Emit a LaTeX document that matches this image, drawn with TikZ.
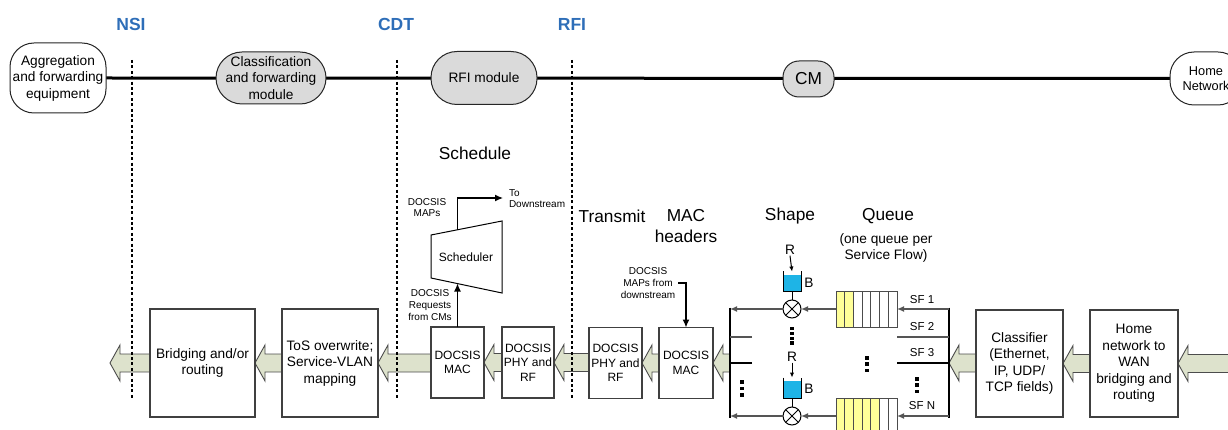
\documentclass[tikz,border=0pt]{standalone}
\usepackage{fontspec}
\setmainfont{Liberation Sans}
\usetikzlibrary{arrows.meta,calc,backgrounds}
\definecolor{lblue}{RGB}{46,110,184}
\definecolor{arrfill}{RGB}{221,226,204}
\definecolor{gfill}{RGB}{218,218,218}
\definecolor{bucketc}{RGB}{30,180,230}
\definecolor{qyellow}{RGB}{255,255,153}
\definecolor{lgray}{RGB}{85,85,85}
\newcommand\blockarrow[2]{%
  \draw[barrow] let \p1=(#1), \p2=(#2) in
    (\x1,\y2+9pt) -- (\x2+10pt,\y2+9pt) -- (\x2+10pt,\y2+18pt) -- (\x2,\y2)
    -- (\x2+10pt,\y2-18pt) -- (\x2+10pt,\y2-9pt) -- (\x1,\y2-9pt);}
\newcommand\sqdots[5]{% x, ystart, n, spacing, size
  \foreach \k in {1,...,#3} \fill (#1-#5/2, #2+\k*#4-#4) rectangle ++(#5,#5);}
\begin{document}
\begin{tikzpicture}[x=1pt,y=-1pt,
  every node/.style={inner sep=0pt, outer sep=0pt},
  fmain/.style={font=\fontsize{13.7}{16.5}\selectfont},
  fsmall/.style={font=\fontsize{10}{11.6}\selectfont},
  fbig/.style={font=\fontsize{17.3}{21}\selectfont},
  fdoc/.style={font=\fontsize{12}{14.5}\selectfont},
  fsf/.style={font=\fontsize{11.5}{13}\selectfont},
  iface/.style={font=\fontsize{17.5}{20}\selectfont\bfseries, text=lblue},
  box/.style={draw=black!75, fill=white, line width=1.1pt, align=center},
  pill/.style={draw=black!85, line width=1pt, align=center, fmain},
  barrow/.style={draw=black!70, fill=arrfill, line width=0.9pt, line join=miter},
  dotline/.style={line width=2pt, dash pattern=on 3pt off 2.4pt},
  sline/.style={draw=lgray, line width=1.4pt, -{Latex[length=7pt,width=6pt]}},
  karrow/.style={draw=black, line width=1.3pt, -{Latex[length=8pt,width=7pt]}},
  mult/.style={circle, draw=black, fill=white, line width=1pt, minimum size=18pt},
  ]
\useasboundingbox (0,0) rectangle (1228,430);

% ---------- top row ----------
\node[pill, fill=white, rounded corners=24pt, minimum width=96pt, minimum height=70pt] (agg) at (58,78) {Aggregation\\and forwarding\\equipment};
\node[pill, fill=gfill, rounded corners=26pt, minimum width=110pt, minimum height=52pt] (cls) at (271,78) {Classification\\and forwarding\\module};
\node[pill, fill=gfill, rounded corners=26pt, minimum width=106pt, minimum height=53pt] (rfi) at (484,78) {RFI module};
\node[pill, fill=gfill, rounded corners=16pt, minimum width=51pt, minimum height=36pt, font=\fontsize{17.3}{20}\selectfont] (cm) at (808.5,79) {CM};
\node[pill, fill=white, rounded corners=24pt, minimum width=72pt, minimum height=53pt, font=\fontsize{12.8}{15.5}\selectfont] (homenet) at (1206,78.5) {Home\\Network};

\node[iface] (nsi) at (131,24) {NSI};
\node[iface] (cdt) at (396,24) {CDT};
\node[iface] (rfil) at (572,24) {RFI};
\draw[dotline] (132,60) -- (132,400);
\draw[dotline] (397,60) -- (397,400);
\draw[dotline] (572,60) -- (572,400);

% ---------- bottom boxes ----------
\node[box, fmain, minimum width=105pt, minimum height=108pt] (bridge) at (202.5,363) {Bridging and/or\\routing};
\node[box, fmain, minimum width=96pt, minimum height=108pt] (tos) at (330,363) {ToS overwrite;\\Service-VLAN\\mapping};
\node[box, fdoc, minimum width=53pt, minimum height=71pt] (dmac) at (457.5,362.5) {DOCSIS\\MAC};
\node[box, fdoc, minimum width=52pt, minimum height=71pt] (dphy) at (528,362.5) {DOCSIS\\PHY and\\RF};
\node[box, fdoc, minimum width=53pt, minimum height=71pt] (cphy) at (615.5,363) {DOCSIS\\PHY and\\RF};
\node[box, fdoc, minimum width=54pt, minimum height=71pt] (cmac) at (686,363) {DOCSIS\\MAC};
\node[box, fmain, minimum width=87pt, minimum height=107pt] (clsf) at (1019.5,363.5) {Classifier\\(Ethernet,\\IP, UDP/\\TCP fields)};
\node[box, fmain, minimum width=88pt, minimum height=107pt] (hwan) at (1134,363.5) {Home\\network to\\WAN\\bridging and\\routing};

\coordinate (leftend) at (110,363);
\coordinate (rightend) at (1232,363);
\coordinate (busL) at (730,363);
\coordinate (busR) at (949,363);

\begin{scope}[on background layer]
  \draw[line width=3pt] (agg.east) -- (homenet.west);
  \blockarrow{bridge.west}{leftend}
  \blockarrow{tos.west}{bridge.east}
  \blockarrow{dmac.west}{tos.east}
  \blockarrow{dphy.west}{dmac.east}
  \blockarrow{cphy.west}{dphy.east}
  \blockarrow{cmac.west}{cphy.east}
  \blockarrow{busL}{cmac.east}
  \blockarrow{clsf.west}{busR}
  \blockarrow{hwan.west}{clsf.east}
  \blockarrow{rightend}{hwan.east}
\end{scope}

% ---------- headings ----------
\node[fbig] (tsched) at (475,153) {Schedule};
\node[fbig] (ttrans) at (612,216) {Transmit};
\node[fbig, align=center] (tmac) at (686,226.5) {MAC\\headers};
\node[fbig] (tshape) at (790,216) {Shape};
\node[fbig] (tqueue) at (888,216) {Queue};
\node[fmain, align=center, font=\fontsize{13.7}{16}\selectfont] (tqsub) at (886,248) {(one queue per\\Service Flow)};

% ---------- scheduler ----------
\draw[line width=1pt] (431,235) -- (502,221) -- (502,293) -- (431,278) -- cycle;
\node[fdoc] (sched) at (466,257) {Scheduler};
\coordinate (schB) at (457.5,283.5);
\coordinate (schT) at (457.5,230);
\coordinate (todown) at (503,198);
\draw[karrow] (dmac.north) -- (schB);
\draw[karrow] (schT) |- (todown);
\node[fsmall, align=center] (maps) at (427,207.5) {DOCSIS\\MAPs};
\node[fsmall, align=left, anchor=west] (tods) at (509,198.5) {To\\Downstream};
\node[fsmall, align=center] (reqs) at (430,305) {DOCSIS\\Requests\\from CMs};
\node[fsmall, align=center] (mapsfrom) at (648,283) {DOCSIS\\MAPs from\\downstream};
\draw[karrow] (mapsfrom.east) ++(3,0) -| (cmac.north);

% ---------- buses ----------
\draw[line width=2.6pt] (730,307.5) -- (730,417.5);
\draw[line width=2.6pt] (949,307.5) -- (949,417.5);

% ---------- queues ----------
\foreach \i/\c in {0/qyellow,1/qyellow,2/white,3/white,4/white,5/white,6/white}
  \draw[fill=\c, draw=black!70, line width=0.8pt] (836+\i*8.714,291) rectangle ++(8.714,36);
\foreach \i/\c in {0/qyellow,1/qyellow,2/qyellow,3/qyellow,4/qyellow,5/white,6/white}
  \draw[fill=\c, draw=black!70, line width=0.8pt] (836+\i*8.714,398) rectangle ++(8.714,36);
\node[minimum width=61pt, minimum height=36pt] (q1) at (866.5,309) {};
\node[minimum width=61pt, minimum height=36pt] (qn) at (866.5,416) {};

% ---------- shapers ----------
\node[mult] (m1) at (792,309) {};
\node[mult] (mn) at (792,416) {};
\foreach \m in {m1,mn} {
  \draw[line width=0.9pt] (\m.north east) -- (\m.south west);
  \draw[line width=0.9pt] (\m.north west) -- (\m.south east);
}
\fill[bucketc] (783,275) rectangle (801,291);
\draw[line width=1pt] (783,271.5) -- (783,291) -- (801,291) -- (801,271.5);
\node[minimum width=18pt, minimum height=19.5pt] (b1) at (792,281.25) {};
\fill[bucketc] (783,381) rectangle (801,398);
\draw[line width=1pt] (783,377.5) -- (783,398) -- (801,398) -- (801,377.5);
\node[minimum width=18pt, minimum height=20.5pt] (bn) at (792,387.75) {};
\draw[line width=1pt] (b1.south) -- (m1.north);
\draw[line width=1pt] (bn.south) -- (mn.north);

\node[fmain] (r1) at (790,250) {R};
\node[fmain] (rn) at (792,357) {R};
\node[fmain] (bl1) at (809,283) {B};
\node[fmain] (bln) at (809,389) {B};
\draw[line width=1pt, -{Latex[length=5pt,width=4.5pt]}] (r1.south) ++(0,1) -- (b1.north);
\draw[line width=1pt, -{Latex[length=5pt,width=4.5pt]}] (rn.south) ++(0,1) -- (bn.north);

\draw[sline] (q1.west) -- (m1.east);
\draw[sline] (qn.west) -- (mn.east);
\draw[sline] (m1.west) -- (m1 -| busL);
\draw[sline] (mn.west) -- (mn -| busL);
\draw[sline] (q1.east -| busR) -- (q1.east);
\draw[sline] (qn.east -| busR) -- (qn.east);

\coordinate (sf2) at (897,337);
\coordinate (sf3) at (897,363);
\draw[draw=lgray, line width=1.3pt] (sf2) -- (sf2 -| busR);
\draw[draw=black, line width=1.1pt] (sf3) -- (sf3 -| busR);
\coordinate (l2) at (752,337);
\coordinate (l3) at (752,363);
\draw[draw=lgray, line width=1.3pt] (l2) -- (l2 -| busL);
\draw[draw=black, line width=1.1pt] (l3) -- (l3 -| busL);

\node[fsf] (sfa) at (922,300) {SF 1};
\node[fsf] (sfb) at (922,327) {SF 2};
\node[fsf] (sfc) at (922,353) {SF 3};
\node[fsf] (sfn) at (922,406) {SF N};

\sqdots{792}{327}{4}{4.8}{3.2}
\sqdots{742}{380}{3}{6.5}{3.5}
\sqdots{867}{356}{3}{6.3}{3.5}
\sqdots{917}{377}{3}{6.3}{3.5}
\end{tikzpicture}
\end{document}
